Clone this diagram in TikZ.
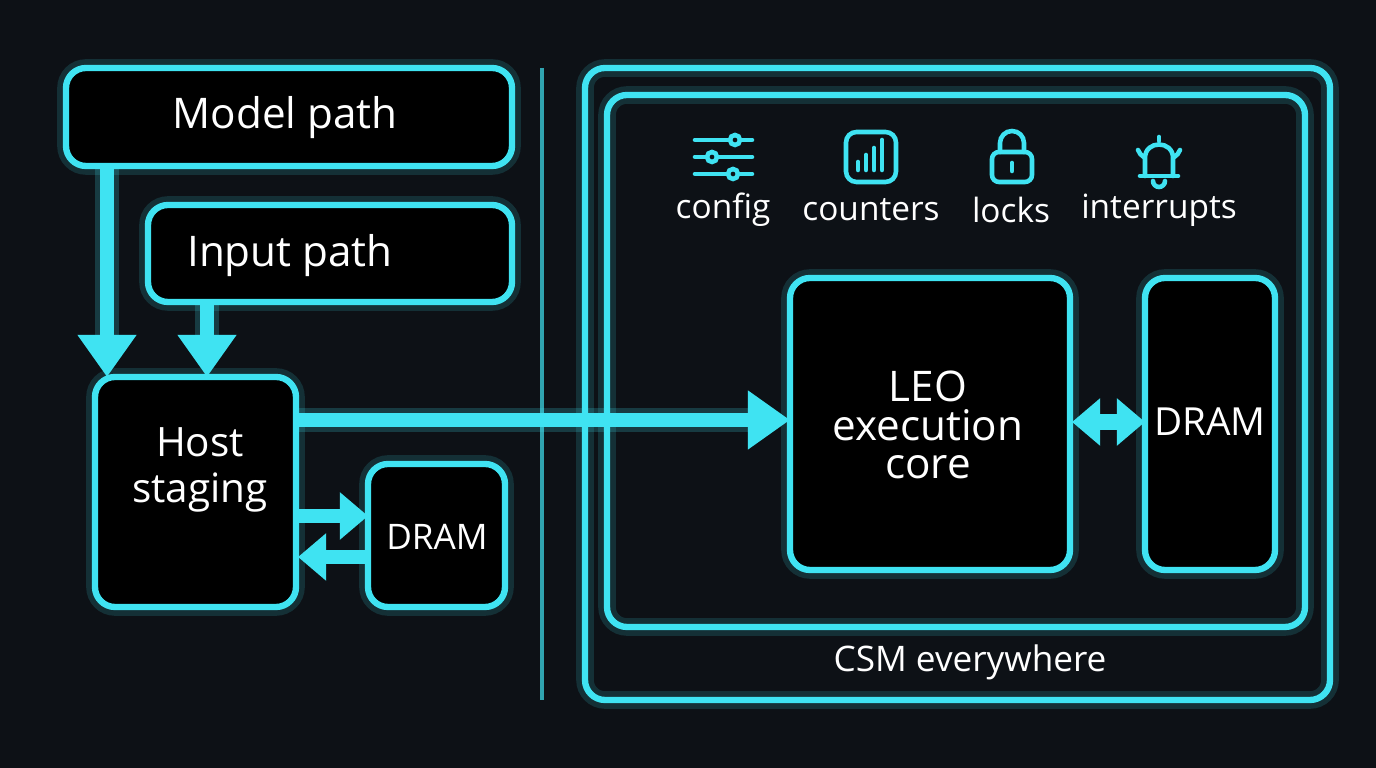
\documentclass[tikz,border=0pt]{standalone}
\usepackage{fontspec}
\setmainfont{Open Sans}
\usetikzlibrary{arrows.meta}
\definecolor{bg}{HTML}{0D1116}
\definecolor{cy}{HTML}{3FE3F2}
\begin{document}
\begin{tikzpicture}[x=0.01cm,y=-0.01cm,
  glow/.style={draw=cy, line width=1.8pt, fill=black, rounded corners=0.2cm,
     preaction={draw=cy, draw opacity=0.15, line width=5pt}},
  lbl/.style={text=white, align=center},
  arr/.style={draw=cy, line width=4pt, -{Triangle[length=12pt,width=16pt]},
     preaction={draw=cy, draw opacity=0.2, line width=7pt, -{Triangle[length=12pt,width=16pt]}}},
  darr/.style={draw=cy, line width=4.5pt, {Triangle[length=8pt,width=13pt]}-{Triangle[length=8pt,width=13pt]}},
  sarr/.style={draw=cy, line width=4pt, -{Triangle[length=8pt,width=13pt]}},
  ic/.style={draw=cy, line width=1.3pt, line cap=round}]
\fill[bg] (0,0) rectangle (1376,768);
\draw[cy, line width=1pt, opacity=0.7] (542,68) -- (542,700);
\path[glow] (66,68) rectangle (512,166);
\node[lbl, font=\fontsize{12}{14}\selectfont] (model) at (285,118) {Model path};
\path[glow] (148,205) rectangle (512,302);
\node[lbl, font=\fontsize{12}{14}\selectfont] (input) at (290,256) {Input path};
\path[glow] (95,377) rectangle (296,607);
\node[lbl, font=\fontsize{11.5}{15}\selectfont] (host) at (200,470) {Host\\[-2pt]staging};
\path[glow] (368,464) rectangle (505,607);
\node[lbl, font=\fontsize{10}{12}\selectfont] (dram1) at (437,537) {DRAM};
\path[glow, fill=none] (585,68) rectangle (1330,700);
\path[glow, fill=none] (607,95) rectangle (1305,627);
\node[lbl, font=\fontsize{10}{12}\selectfont] (csm) at (970,662) {CSM everywhere};
\path[glow] (790,278) rectangle (1070,570);
\node[lbl, font=\fontsize{12}{14}\selectfont] (leo) at (928,425) {LEO\\[-3pt]execution\\[-3pt]core};
\path[glow] (1145,278) rectangle (1275,570);
\node[lbl, font=\fontsize{11}{13}\selectfont] (dram2) at (1210,422) {DRAM};
\coordinate (m0) at (107,168); \coordinate (m1) at (107,377);
\coordinate (i0) at (207,304); \coordinate (i1) at (207,377);
\coordinate (h0) at (298,420); \coordinate (l1) at (790,420);
\coordinate (a0) at (298,516); \coordinate (a1) at (368,516);
\coordinate (b0) at (368,557); \coordinate (b1) at (298,557);
\coordinate (c0) at (1072,422); \coordinate (c1) at (1145,422);
\draw[arr] (m0) -- (m1);
\draw[arr] (i0) -- (i1);
\draw[arr] (h0) -- (l1);
\draw[sarr] (a0) -- (a1);
\draw[sarr] (b0) -- (b1);
\draw[darr] (c0) -- (c1);
% sliders
\draw[ic] (695,140) -- (752,140); \draw[ic] (695,157) -- (752,157); \draw[ic] (695,174) -- (752,174);
\filldraw[ic, fill=bg] (735,140) circle (5); \filldraw[ic, fill=bg] (712,157) circle (5); \filldraw[ic, fill=bg] (733,174) circle (5);
\node[lbl, font=\fontsize{9.5}{12}\selectfont] (t1) at (723,210) {config};
% counters
\draw[ic, rounded corners=3pt] (846,132) rectangle (896,182);
\draw[ic] (858,170) -- (858,162); \draw[ic] (866,170) -- (866,155); \draw[ic] (874,170) -- (874,148); \draw[ic] (882,170) -- (882,140);
\node[lbl, font=\fontsize{9.5}{12}\selectfont] (t2) at (871,210) {counters};
% lock
\draw[ic, rounded corners=2pt] (992,152) rectangle (1032,182);
\draw[ic] (1000,152) -- (1000,143) arc (180:360:12) -- (1024,152);
\draw[ic] (1012,163) -- (1012,171);
\node[lbl, font=\fontsize{9.5}{12}\selectfont] (t3) at (1011,210) {locks};
% bell
\draw[ic] (1140,176) -- (1178,176);
\draw[ic] (1145,176) -- (1145,158) .. controls (1145,140) and (1173,140) .. (1173,158) -- (1173,176);
\draw[ic] (1153,181) arc (180:0:6);
\draw[ic] (1159,137) -- (1159,141);
\draw[ic] (1138,150) arc (160:120:14); \draw[ic] (1180,150) arc (20:60:14);
\node[lbl, font=\fontsize{9.5}{12}\selectfont] (t4) at (1159,210) {interrupts};
\end{tikzpicture}
\end{document}
